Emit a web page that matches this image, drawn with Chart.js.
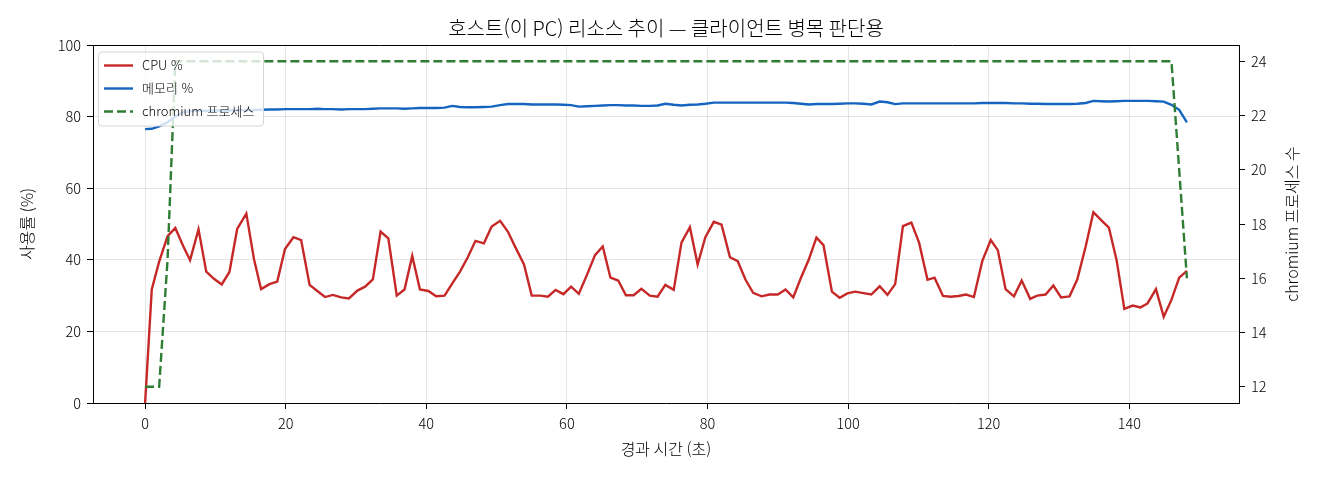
<!DOCTYPE html>
<html lang="ko">
<head>
<meta charset="utf-8">
<title>호스트 리소스 추이</title>
<script src="https://cdn.jsdelivr.net/npm/chart.js@4.4.1/dist/chart.umd.min.js"></script>
<style>
  html, body { margin: 0; padding: 0; background: #fff; }
  #wrap { width: 1320px; height: 480px; }
</style>
</head>
<body>
<div id="wrap"><canvas id="resource_chart" width="1320" height="480"></canvas></div>
<script>
/* 경과 시간 (초) — 샘플 시각 */
const elapsed_sec = [
  0, 0.95, 2.0, 3.2, 4.3, 5.4, 6.4, 7.6, 8.7, 9.8,
  10.9, 12.0, 13.1, 14.4, 15.5, 16.5, 17.7, 18.8, 19.9, 21.1,
  22.2, 23.4, 24.5, 25.6, 26.7, 27.9, 29.0, 30.2, 31.3, 32.4,
  33.5, 34.6, 35.8, 36.9, 38.0, 39.1, 40.3, 41.4, 42.6, 43.7,
  44.8, 45.9, 47.0, 48.2, 49.3, 50.5, 51.6, 52.7, 53.9, 55.0,
  56.2, 57.3, 58.4, 59.5, 60.6, 61.7, 62.9, 64.0, 65.1, 66.2,
  67.3, 68.4, 69.5, 70.6, 71.8, 72.9, 74.0, 75.2, 76.3, 77.5,
  78.6, 79.7, 80.9, 82.0, 83.2, 84.3, 85.4, 86.5, 87.7, 88.8,
  90.0, 91.1, 92.2, 93.3, 94.4, 95.5, 96.5, 97.7, 98.8, 99.9,
  101.0, 102.2, 103.3, 104.5, 105.6, 106.7, 107.8, 109.0, 110.1, 111.3,
  112.3, 113.5, 114.6, 115.7, 116.8, 117.9, 119.1, 120.3, 121.3, 122.4,
  123.6, 124.7, 125.9, 126.9, 128.1, 129.2, 130.3, 131.5, 132.6, 133.8,
  134.9, 136.0, 137.1, 138.2, 139.3, 140.5, 141.6, 142.6, 143.8, 144.9,
  146.0, 147.1, 148.2
];

/* CPU 사용률 (%) */
const cpu_pct = [
  0.0, 31.7, 39.5, 46.6, 48.9, 43.9, 39.9, 48.5, 36.7, 34.7,
  33.1, 36.6, 48.6, 52.9, 40.1, 31.8, 33.2, 33.9, 43.0, 46.3,
  45.5, 33.0, 31.3, 29.6, 30.2, 29.5, 29.2, 31.4, 32.5, 34.5,
  47.9, 46.0, 30.0, 31.7, 41.1, 31.7, 31.3, 29.8, 30.0, 33.4,
  36.7, 40.7, 45.3, 44.6, 49.3, 50.9, 47.9, 43.4, 38.7, 30.0,
  30.0, 29.7, 31.6, 30.4, 32.5, 30.5, 36.0, 41.3, 43.7, 35.0,
  34.2, 30.1, 30.1, 31.9, 30.0, 29.7, 33.0, 31.6, 44.8, 49.1,
  38.7, 46.3, 50.6, 49.8, 40.7, 39.6, 34.5, 30.8, 29.8, 30.3,
  30.3, 31.7, 29.5, 35.0, 40.0, 46.2, 44.1, 31.1, 29.4, 30.6,
  31.1, 30.7, 30.3, 32.6, 30.2, 33.2, 49.4, 50.4, 44.8, 34.4,
  35.0, 29.9, 29.7, 29.9, 30.3, 29.6, 39.7, 45.5, 42.7, 31.8,
  29.8, 34.2, 29.1, 30.0, 30.3, 32.8, 29.5, 29.8, 34.5, 43.7,
  53.3, 51.1, 49.0, 39.9, 26.3, 27.2, 26.7, 27.8, 31.8, 24.1,
  28.8, 35.0, 36.9
];

/* 메모리 사용률 (%) */
const mem_pct = [
  76.5, 76.6, 77.3, 78.4, 80.0, 81.2, 81.5, 81.6, 81.6, 81.7,
  81.7, 81.7, 81.8, 81.8, 81.8, 81.9, 82.0, 82.0, 82.1, 82.1,
  82.1, 82.1, 82.2, 82.1, 82.1, 82.0, 82.1, 82.1, 82.1, 82.2,
  82.3, 82.3, 82.3, 82.2, 82.3, 82.4, 82.4, 82.4, 82.5, 83.0,
  82.7, 82.6, 82.6, 82.7, 82.8, 83.2, 83.5, 83.5, 83.5, 83.4,
  83.4, 83.4, 83.4, 83.3, 83.2, 82.8, 82.9, 83.0, 83.1, 83.2,
  83.2, 83.1, 83.1, 83.0, 83.0, 83.1, 83.6, 83.3, 83.1, 83.3,
  83.4, 83.6, 83.9, 83.9, 83.9, 83.9, 83.9, 83.9, 83.9, 83.9,
  83.9, 83.9, 83.8, 83.6, 83.4, 83.5, 83.5, 83.5, 83.6, 83.7,
  83.7, 83.6, 83.4, 84.2, 84.0, 83.5, 83.7, 83.7, 83.7, 83.7,
  83.7, 83.7, 83.7, 83.7, 83.7, 83.7, 83.8, 83.8, 83.8, 83.8,
  83.7, 83.7, 83.6, 83.6, 83.5, 83.5, 83.5, 83.5, 83.6, 83.8,
  84.4, 84.3, 84.2, 84.3, 84.4, 84.4, 84.4, 84.4, 84.3, 84.2,
  83.3, 81.9, 78.4
];

/* chromium 프로세스 수 */
const chromium_procs = [
  12, 12, 12, 16.7, 24, 24, 24, 24, 24, 24,
  24, 24, 24, 24, 24, 24, 24, 24, 24, 24,
  24, 24, 24, 24, 24, 24, 24, 24, 24, 24,
  24, 24, 24, 24, 24, 24, 24, 24, 24, 24,
  24, 24, 24, 24, 24, 24, 24, 24, 24, 24,
  24, 24, 24, 24, 24, 24, 24, 24, 24, 24,
  24, 24, 24, 24, 24, 24, 24, 24, 24, 24,
  24, 24, 24, 24, 24, 24, 24, 24, 24, 24,
  24, 24, 24, 24, 24, 24, 24, 24, 24, 24,
  24, 24, 24, 24, 24, 24, 24, 24, 24, 24,
  24, 24, 24, 24, 24, 24, 24, 24, 24, 24,
  24, 24, 24, 24, 24, 24, 24, 24, 24, 24,
  24, 24, 24, 24, 24, 24, 24, 24, 24, 24,
  24, 20, 16
];

/* 눈금 */
const x_ticks = [0, 20, 40, 60, 80, 100, 120, 140];
const pct_ticks = [0, 20, 40, 60, 80, 100];
const proc_ticks = [12, 14, 16, 18, 20, 22, 24];

const FONT = '"Noto Sans CJK KR", "Noto Sans", sans-serif';
const TXT = '#000';

/* 위쪽 테두리, 범례 박스, 오른쪽 축 제목 */
const plugin_moldura = {
    id: 'moldura',
    afterDatasetsDraw(chart) {
        const ctx = chart.ctx;
        const a = chart.chartArea;
        ctx.save();
        ctx.strokeStyle = '#000';
        ctx.lineWidth = 1;
        ctx.beginPath();
        ctx.moveTo(a.left, a.top + 0.5);
        ctx.lineTo(a.right, a.top + 0.5);
        ctx.stroke();

        // legenda
        const x0 = a.left + 5, y0 = a.top + 6.5, w = 165, h = 74;
        ctx.beginPath();
        ctx.roundRect(x0 + 0.5, y0 + 0.5, w, h, 3);
        ctx.fillStyle = 'rgba(255,255,255,0.8)';
        ctx.fill();
        ctx.strokeStyle = '#d6d6d6';
        ctx.stroke();
        ctx.font = '300 13px ' + FONT;
        ctx.textBaseline = 'middle';
        chart.data.datasets.forEach((ds, i) => {
            const y = y0 + 14 + i * 23;
            ctx.strokeStyle = ds.borderColor;
            ctx.lineWidth = 2.4;
            ctx.setLineDash(ds.borderDash || []);
            ctx.beginPath();
            ctx.moveTo(x0 + 6, y);
            ctx.lineTo(x0 + 35, y);
            ctx.stroke();
            ctx.setLineDash([]);
            ctx.fillStyle = TXT;
            ctx.fillText(ds.label, x0 + 44, y);
        });
        ctx.restore();
    },
    afterDraw(chart) {
        const ctx = chart.ctx;
        const a = chart.chartArea;
        ctx.save();
        ctx.translate(1292, (a.top + a.bottom) / 2);
        ctx.rotate(-Math.PI / 2);
        ctx.font = '300 16px ' + FONT;
        ctx.fillStyle = TXT;
        ctx.textAlign = 'center';
        ctx.textBaseline = 'middle';
        ctx.fillText('chromium 프로세스 수', 0, 0);
        ctx.restore();
    }
};

const data_recursos = {
    labels: elapsed_sec,
    datasets: [{
        label: 'CPU %',
        data: cpu_pct,
        borderColor: '#c62828',
        backgroundColor: '#c62828',
        yAxisID: 'y',
        order: 2
    },
    {
        label: '메모리 %',
        data: mem_pct,
        borderColor: '#1565c0',
        backgroundColor: '#1565c0',
        yAxisID: 'y',
        order: 1
    },
    {
        label: 'chromium 프로세스',
        data: chromium_procs,
        borderColor: '#2e7d32',
        backgroundColor: '#2e7d32',
        borderDash: [9, 4],
        yAxisID: 'y1',
        order: 0
    }]
};

const tick_font = { family: FONT, size: 14.5, weight: '300' };
const label_font = { family: FONT, size: 16, weight: '300' };

const config_recursos = {
    type: 'line',
    data: data_recursos,
    plugins: [plugin_moldura],
    options: {
        responsive: false,
        animation: false,
        devicePixelRatio: 1,
        layout: { padding: 0 },
        elements: {
            point: { radius: 0 },
            line: { borderWidth: 2.4, tension: 0, borderCapStyle: 'butt' }
        },
        plugins: {
            legend: { display: false },
            tooltip: { enabled: false },
            title: {
                display: true,
                fullSize: false,
                text: '호스트(이 PC) 리소스 추이 — 클라이언트 병목 판단용',
                color: '#000',
                font: { family: FONT, size: 20, weight: '300', lineHeight: 1.2 },
                padding: { top: 16, bottom: 5 }
            }
        },
        scales: {
            x: {
                type: 'linear',
                min: -7.41,
                max: 155.61,
                afterBuildTicks: s => { s.ticks = x_ticks.map(v => ({ value: v })); },
                afterFit: s => { s.height = 77; },
                ticks: { color: TXT, font: tick_font, padding: 6, maxRotation: 0 },
                grid: { color: 'rgba(0,0,0,0.1)', tickColor: '#000', tickLength: 6 },
                border: { color: '#000', width: 1 },
                title: {
                    display: true, text: '경과 시간 (초)', color: TXT,
                    font: label_font, padding: { top: 4, bottom: 21 }
                }
            },
            y: {
                position: 'left',
                min: 0,
                max: 100,
                afterBuildTicks: s => { s.ticks = pct_ticks.map(v => ({ value: v })); },
                afterFit: s => { s.width = 93; },
                ticks: { color: TXT, font: tick_font, padding: 6 },
                grid: { color: 'rgba(0,0,0,0.1)', tickColor: '#000', tickLength: 6 },
                border: { color: '#000', width: 1 },
                title: {
                    display: true, text: '사용률 (%)', color: TXT,
                    font: label_font, padding: { top: 17, bottom: 4 }
                }
            },
            y1: {
                position: 'right',
                min: 11.4,
                max: 24.6,
                afterBuildTicks: s => { s.ticks = proc_ticks.map(v => ({ value: v })); },
                afterFit: s => { s.width = 81; },
                ticks: { color: TXT, font: tick_font, padding: 6 },
                grid: { drawOnChartArea: false, tickColor: '#000', tickLength: 6 },
                border: { color: '#000', width: 1 }
            }
        }
    }
};

const grafico_recursos = new Chart(
    document.getElementById('resource_chart'),
    config_recursos
);
</script>
</body>
</html>
